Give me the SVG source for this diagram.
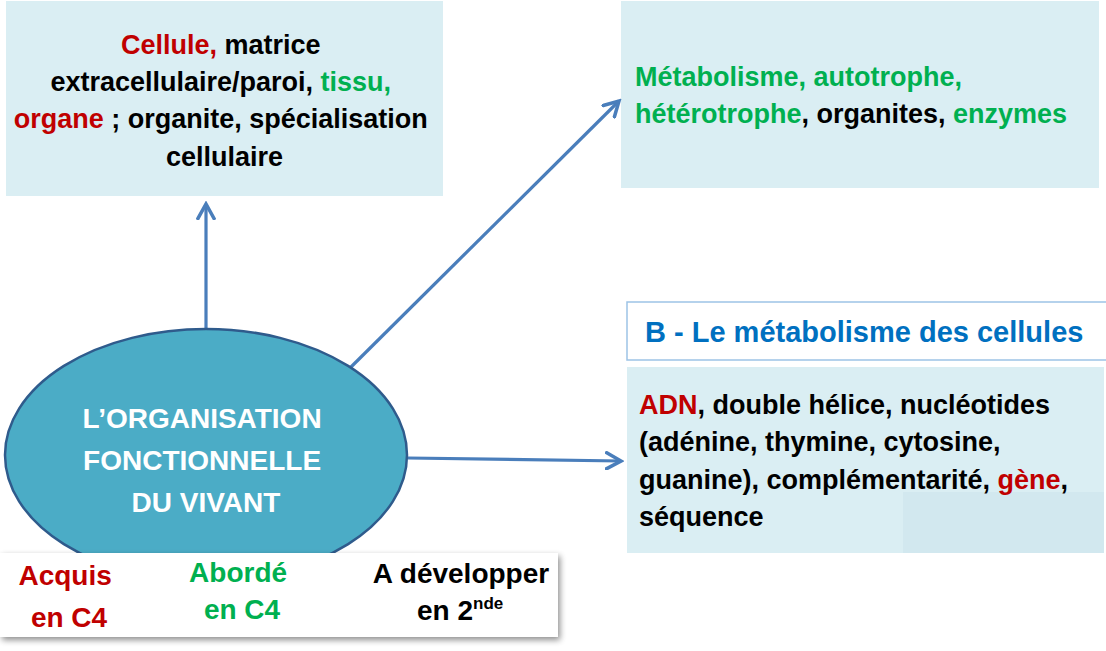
<svg xmlns="http://www.w3.org/2000/svg" width="1106" height="651" viewBox="0 0 1106 651">
  <style>
    text { font-family: "Liberation Sans", Arial, sans-serif; font-weight: bold; }
    .body { font-size: 27px; fill: #000; }
    .red { fill: #C00000; }
    .green { fill: #00B050; }
    .box { fill: #DAEEF3; }
    .conn { stroke: #4A7EBB; stroke-width: 3.2; fill: none; }
    .ell { font-size: 28px; fill: #FFFFFF; }
    .title { font-size: 29px; fill: #0070C0; }
    .leg { font-size: 28px; }
  </style>
  <defs>
    <marker id="arrow" viewBox="0 0 12 12" refX="10" refY="6" markerWidth="6" markerHeight="6" markerUnits="strokeWidth" orient="auto">
      <path d="M1,1 L10,6 L1,11" fill="none" stroke="#4A7EBB" stroke-width="2.2" stroke-linecap="square"/>
    </marker>
    <filter id="shadow" x="-5%" y="-20%" width="115%" height="150%">
      <feGaussianBlur in="SourceAlpha" stdDeviation="3"/>
      <feOffset dx="2" dy="3" result="b"/>
      <feComponentTransfer><feFuncA type="linear" slope="0.45"/></feComponentTransfer>
      <feMerge><feMergeNode/><feMergeNode in="SourceGraphic"/></feMerge>
    </filter>
  </defs>

  <rect width="1106" height="651" fill="#FFFFFF"/>

  <g id="box-structure">
    <rect class="box" x="6" y="1" width="437" height="195"/>
    <text class="body" text-anchor="middle">
      <tspan x="224.5" y="54"><tspan class="red">Cellule,</tspan> matrice</tspan>
      <tspan x="224.5" y="91">extracellulaire/paroi, <tspan class="green">tissu,</tspan></tspan>
      <tspan x="224.5" y="128"><tspan class="red">organe</tspan> ; organite, spécialisation</tspan>
      <tspan x="224.5" y="166">cellulaire</tspan>
    </text>
  </g>

  <g id="box-metabolisme">
    <rect class="box" x="621" y="1" width="478" height="187"/>
    <text class="body">
      <tspan x="635" y="86" class="green">Métabolisme, autotrophe,</tspan>
      <tspan x="635" y="123"><tspan class="green">hétérotrophe</tspan>, organites, <tspan class="green">enzymes</tspan></tspan>
    </text>
  </g>

  <g id="title-b">
    <rect x="627" y="302" width="482" height="58" fill="#FFFFFF" stroke="#9DC3E6" stroke-width="1.5"/>
    <text class="title" x="645" y="342">B - Le métabolisme des cellules</text>
  </g>

  <g id="box-adn">
    <rect class="box" x="627" y="367" width="477" height="186"/>
    <rect x="903" y="492" width="201" height="61" fill="#D2E8EF"/>
    <text class="body">
      <tspan x="639" y="414"><tspan class="red">ADN</tspan>, double hélice, nucléotides</tspan>
      <tspan x="639" y="451">(adénine, thymine, cytosine,</tspan>
      <tspan x="639" y="489">guanine), complémentarité, <tspan class="red">gène</tspan>,</tspan>
      <tspan x="639" y="526">séquence</tspan>
    </text>
  </g>

  <g id="connectors">
    <line class="conn" x1="206" y1="330" x2="206" y2="204" marker-end="url(#arrow)"/>
    <line class="conn" x1="351" y1="367" x2="619" y2="101" marker-end="url(#arrow)"/>
    <line class="conn" x1="408" y1="458" x2="621" y2="461" marker-end="url(#arrow)"/>
  </g>

  <g id="center">
    <ellipse cx="206" cy="455" rx="201" ry="126" fill="#4BACC6" stroke="#2F5B8C" stroke-width="2.5"/>
    <text class="ell" text-anchor="middle">
      <tspan x="206" y="428">L’ORGANISATION</tspan>
      <tspan x="206" y="470">FONCTIONNELLE</tspan>
      <tspan x="206" y="512">DU VIVANT</tspan>
    </text>
  </g>

  <g id="legend">
    <rect x="0" y="553" width="558" height="84" fill="#FFFFFF" filter="url(#shadow)"/>
    <text class="leg red" text-anchor="middle">
      <tspan x="69" y="585">Acquis</tspan>
      <tspan x="69" y="627">en C4</tspan>
    </text>
    <text class="leg green" text-anchor="middle">
      <tspan x="242" y="582">Abordé</tspan>
      <tspan x="242" y="619">en C4</tspan>
    </text>
    <text class="leg" text-anchor="middle" fill="#000">
      <tspan x="461" y="583">A développer</tspan>
    </text>
    <text class="leg" x="417" y="620" fill="#000">en 2<tspan font-size="17" dy="-11">nde</tspan></text>
  </g>
</svg>
